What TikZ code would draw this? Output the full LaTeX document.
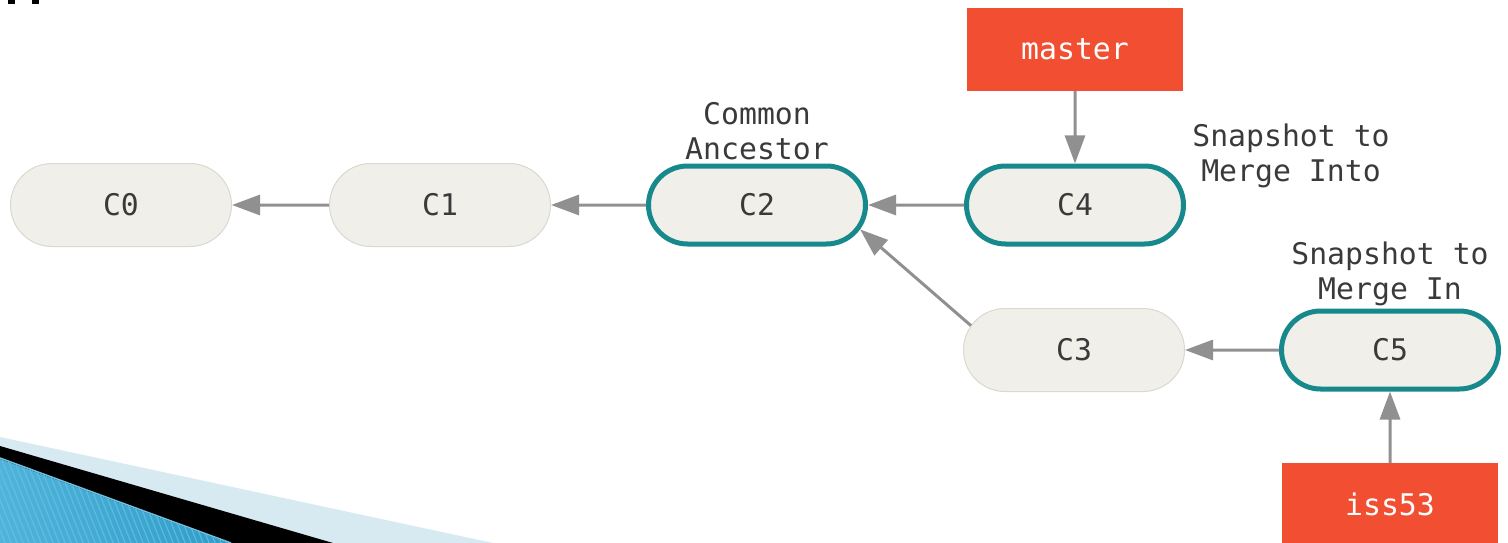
\documentclass[tikz,border=0pt]{standalone}
\usepackage{fontspec}
\setmonofont{DejaVu Sans Mono}
\usetikzlibrary{arrows.meta,calc,shapes.misc}

\definecolor{gitred}{HTML}{F14E32}
\definecolor{gitteal}{HTML}{17898C}
\definecolor{commitfill}{HTML}{F0EFE9}
\definecolor{commitedge}{HTML}{DAD8D0}
\definecolor{arrowgray}{HTML}{909090}
\definecolor{textdark}{HTML}{3A3A3A}
\definecolor{bandlight}{HTML}{D7EAF2}
\definecolor{stripedark}{HTML}{2E9DC8}
\definecolor{stripelight}{HTML}{4FB3DB}
\definecolor{stripeline}{HTML}{6EC2E3}

\begin{document}
\begin{tikzpicture}[x=1pt,y=-1pt,
  mono/.style={font={\ttfamily\fontsize{29.8pt}{35pt}\selectfont}},
  commit/.style={rounded rectangle, mono, fill=commitfill, draw=commitedge,
    line width=1pt, minimum width=221pt, minimum height=83pt, inner sep=0pt,
    text=textdark},
  tipcommit/.style={commit, draw=gitteal, line width=5pt,
    minimum width=217pt, minimum height=78pt},
  branch/.style={rectangle, mono, fill=gitred, minimum width=216pt,
    minimum height=83pt, inner sep=0pt, text=white},
  note/.style={mono, align=center, inner sep=0pt, text=textdark},
  arr/.style={draw=arrowgray, line width=3pt,
    -{Triangle[length=28pt,width=20pt]}}]

\useasboundingbox (0,0) rectangle (1508,543);
\clip (0,0) rectangle (1508,543);

% slide decoration, lower left
\fill[bandlight] (0,437) -- (493,543) -- (0,543) -- cycle;
\fill[black] (0,446) -- (333,543) -- (0,543) -- cycle;
\begin{scope}
  \clip (0,459) -- (229,543) -- (0,543) -- cycle;
  \shade[left color=stripelight, right color=stripedark] (0,440) rectangle (240,543);
  \foreach \i in {-30,...,50}
    \draw[stripeline, line width=1.2pt, opacity=0.7] (\i*6,440) -- ++(44,110);
\end{scope}
\draw[stripeline, line width=1.5pt] (0,458) -- (231,543);

% slide decoration, upper left
\fill[black] (8,0) rectangle (15,4);
\fill[black] (32,0) rectangle (39,4);

% commits
\node[commit]    (C0) at (121,205) {C0};
\node[commit]    (C1) at (440,205) {C1};
\node[tipcommit] (C2) at (757,205) {C2};
\node[tipcommit] (C4) at (1075,205) {C4};
\node[commit]    (C3) at (1074,350) {C3};
\node[tipcommit] (C5) at (1390,350) {C5};

% branch pointers
\node[branch] (master) at (1075,49.5) {master};
\node[branch] (iss53)  at (1390,504.5) {iss53};

% labels
\node[note] (ancestor) at (757,131) {Common\\Ancestor};
\node[note] (into)     at (1291,155.5) {Snapshot to\\Merge Into};
\node[note] (in)       at (1390,274) {Snapshot to\\Merge In};

% parent links
\draw[arr] (C1) -- (C0);
\draw[arr] (C2) -- (C1);
\draw[arr] (C4) -- (C2);
\draw[arr] (C5) -- (C3);
\draw[arr] ($(C3.west)+(41.5,0)+(216:41.5)$) -- ($(C2.east)+(-41.5,0)+(36:41.5)$);
\draw[arr] (master) -- (C4);
\draw[arr] (iss53) -- (C5);
\end{tikzpicture}
\end{document}
